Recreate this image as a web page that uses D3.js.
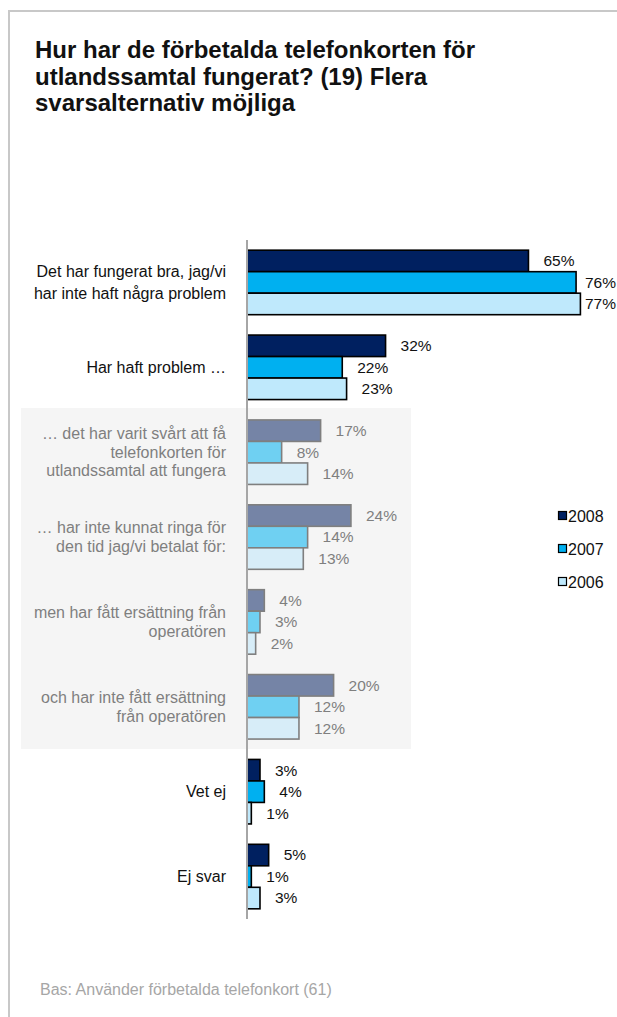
<!DOCTYPE html>
<html>
<head>
<meta charset="utf-8">
<script src="https://cdn.jsdelivr.net/npm/d3@7"></script>
<style>
  html, body { margin: 0; padding: 0; background: #fff; }
  svg { display: block; font-family: "Liberation Sans", Arial, sans-serif; }
</style>
</head>
<body>
<svg id="chart" width="617" height="1017"></svg>
<script>
// Answer categories (each label line separated by "\n")
const categories = [
  "Det har fungerat bra, jag/vi\nhar inte haft några problem",
  "Har haft problem …",
  "… det har varit svårt att få\ntelefonkorten för\nutlandssamtal att fungera",
  "… har inte kunnat ringa för\nden tid jag/vi betalat för:",
  "men har fått ersättning från\noperatören",
  "och har inte fått ersättning\nfrån operatören",
  "Vet ej",
  "Ej svar"
];
// Sub-answers shown muted on a grey panel
const subCategory = [false, false, true, true, true, true, false, false];

const years = ["2008", "2007", "2006"];
const values2008 = [65, 32, 17, 24, 4, 20, 3, 5];
const values2007 = [76, 22, 8, 14, 3, 12, 4, 1];
const values2006 = [77, 23, 14, 13, 2, 12, 1, 3];

const title = ["Hur har de förbetalda telefonkorten för", "utlandssamtal fungerat? (19) Flera", "svarsalternativ möjliga"];
const footnote = "Bas: Använder förbetalda telefonkort (61)";

const series = [values2008, values2007, values2006];
const fills = ["#002060", "#00b0f0", "#bfe9fc"];
const mutedFills = ["#7584a6", "#6fd0f2", "#d7edf8"];

const W = 617;
const svg = d3.select("#chart");

// Outer frame (top and left rules)
svg.append("line").attr("x1", 9).attr("x2", W).attr("y1", 11).attr("y2", 11)
  .attr("stroke", "#c8c8c8").attr("stroke-width", 2);
svg.append("line").attr("x1", 9).attr("x2", 9).attr("y1", 10).attr("y2", 1017)
  .attr("stroke", "#c8c8c8").attr("stroke-width", 2);

// Title
svg.append("text").attr("x", 35).attr("y", 58)
  .attr("font-size", 24).attr("font-weight", "bold").attr("fill", "#111")
  .selectAll("tspan").data(title).join("tspan")
  .attr("x", 35).attr("dy", (d, i) => i === 0 ? 0 : 26.5).text(d => d);

// Scales
const axisX = 247;
const x = d3.scaleLinear().domain([0, 100]).range([0, 433]);
const y = d3.scaleBand().domain(d3.range(categories.length)).range([240, 919]);
const barH = 21.5;
const groupPad = (y.bandwidth() - barH * 3) / 2;

// Grey panel behind the sub-answers
const subIdx = d3.range(categories.length).filter(i => subCategory[i]);
const panelTop = y(subIdx[0]) + groupPad - 12;
const panelBottom = y(subIdx[subIdx.length - 1]) + y.bandwidth() - groupPad + 10;
svg.append("rect").attr("x", 21).attr("y", panelTop)
  .attr("width", 411 - 21).attr("height", panelBottom - panelTop)
  .attr("fill", "#f5f5f5");

// Bars and value labels
const g = svg.append("g");
categories.forEach((cat, ci) => {
  const muted = subCategory[ci];
  series.forEach((vals, si) => {
    const by = y(ci) + groupPad + si * barH;
    g.append("rect")
      .attr("x", axisX).attr("y", by)
      .attr("width", x(vals[ci])).attr("height", barH)
      .attr("fill", muted ? mutedFills[si] : fills[si])
      .attr("stroke", muted ? "#7f7f7f" : "#000")
      .attr("stroke-width", 1.6);
    const lbl = g.append("text")
      .attr("y", by + barH / 2)
      .attr("dy", "0.35em").attr("font-size", 15.5)
      .attr("fill", muted ? "#7f7f7f" : "#111")
      .text(vals[ci] + "%");
    // keep labels inside the page on the right
    const tw = lbl.node().getComputedTextLength();
    lbl.attr("x", Math.min(axisX + x(vals[ci]) + 15, W - tw - 1));
  });

  // Category label, right aligned next to the axis
  const lines = cat.split("\n");
  const lh = muted ? 18.5 : 22;
  const cy = y(ci) + y.bandwidth() / 2;
  const t = svg.append("text").attr("text-anchor", "end")
    .attr("font-size", 16).attr("fill", muted ? "#7f7f7f" : "#111");
  lines.forEach((ln, li) => {
    t.append("tspan").attr("x", 226)
      .attr("y", cy + (li - (lines.length - 1) / 2) * lh)
      .attr("dy", "0.35em").text(ln);
  });
});

// Category axis line
svg.append("line").attr("x1", axisX).attr("x2", axisX).attr("y1", 240).attr("y2", 919)
  .attr("stroke", "#a6a6a6").attr("stroke-width", 2);

// Legend
const legend = svg.append("g");
years.forEach((yr, i) => {
  const ly = 516 + i * 33;
  legend.append("rect").attr("x", 558.5).attr("y", ly - 4.5).attr("width", 8).attr("height", 8)
    .attr("fill", fills[i]).attr("stroke", "#000").attr("stroke-width", 1.2);
  legend.append("text").attr("x", 568).attr("y", ly).attr("dy", "0.35em")
    .attr("font-size", 16).attr("fill", "#111").text(yr);
});

// Footnote
svg.append("text").attr("x", 40).attr("y", 995).attr("font-size", 16)
  .attr("fill", "#a6a6a6").text(footnote);
</script>
</body>
</html>
